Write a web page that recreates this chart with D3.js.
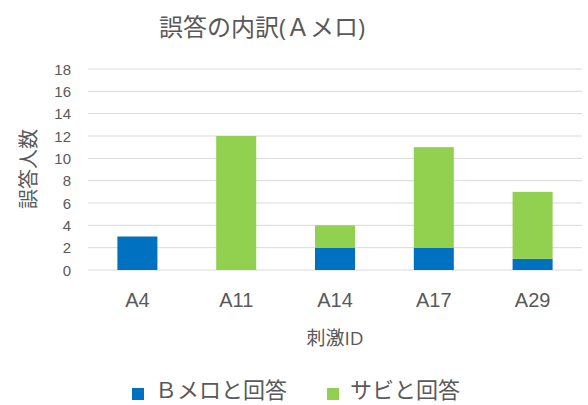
<!DOCTYPE html>
<html><head><meta charset="utf-8">
<script src="https://cdn.jsdelivr.net/npm/d3@7"></script>
<style>
body{margin:0;background:#fff;}
svg{display:block;font-family:"Open Sans","Noto Sans CJK JP",sans-serif;}
</style></head>
<body><svg id="c" width="588" height="405"></svg>
<script>
const categories = ["A4","A11","A14","A17","A29"];
const seriesNames = ["Ｂメロと回答","サビと回答"];
const bmeloValues = [3,0,2,2,1];
const sabiValues = [0,12,2,9,6];
const yTicks = [0,2,4,6,8,10,12,14,16,18];
const colors = ["#0070C0","#92D050"];

const svg = d3.select("#c");
const textColor = "#595959";
const x = d3.scaleBand().domain(categories).range([88,582]).paddingInner(0.595).paddingOuter(0.2975);
const y = d3.scaleLinear().domain([0,18]).range([270,69]);

// gridlines
svg.append("g").selectAll("line").data(yTicks).join("line")
  .attr("x1",88).attr("x2",582)
  .attr("y1",d=>y(d)).attr("y2",d=>y(d))
  .attr("stroke","#d9d9d9").attr("stroke-width",1);

const table = categories.map((c,i)=>({cat:c, b:bmeloValues[i], s:sabiValues[i]}));
const stack = d3.stack().keys(["b","s"])(table);
svg.append("g").selectAll("g").data(stack).join("g")
  .attr("fill",(d,i)=>colors[i])
  .selectAll("rect").data(d=>d).join("rect")
  .attr("x",d=>x(d.data.cat)).attr("width",x.bandwidth())
  .attr("y",d=>y(d[1])).attr("height",d=>y(d[0])-y(d[1]));

// y axis
const yAxis = d3.axisLeft(y).tickValues(yTicks).tickSize(0).tickPadding(0);
const ya = svg.append("g").attr("transform","translate(71,0)").call(yAxis);
ya.select(".domain").remove();
ya.selectAll("text").attr("fill",textColor).style("font-size","15px").attr("dy","0.35em");

// x axis
const xAxis = d3.axisBottom(x).tickSize(0).tickPadding(0);
const xa = svg.append("g").attr("transform","translate(0,288)").call(xAxis);
xa.select(".domain").remove();
xa.selectAll("text").attr("fill",textColor).style("font-size","20px").attr("dy","0.95em");

// title
svg.append("text").attr("x",262).attr("y",36).attr("text-anchor","middle")
  .attr("fill",textColor).style("font-size","24px").text("誤答の内訳(Ａメロ)");
// axis titles
svg.append("text").attr("transform","translate(36,169) rotate(-90)").attr("text-anchor","middle")
  .attr("fill",textColor).style("font-size","20px").text("誤答人数");
svg.append("text").attr("x",335).attr("y",345).attr("text-anchor","middle")
  .attr("fill",textColor).style("font-size","19px").text("刺激ID");

// legend
const legendX = [132,327];
const lg = svg.append("g").selectAll("g").data(seriesNames).join("g")
  .attr("transform",(d,i)=>`translate(${legendX[i]},0)`);
lg.append("rect").attr("x",0).attr("y",388).attr("width",12).attr("height",12).attr("fill",(d,i)=>colors[i]);
lg.append("text").attr("x",23).attr("y",398).attr("fill",textColor).style("font-size","22px").text(d=>d);
</script></body></html>
